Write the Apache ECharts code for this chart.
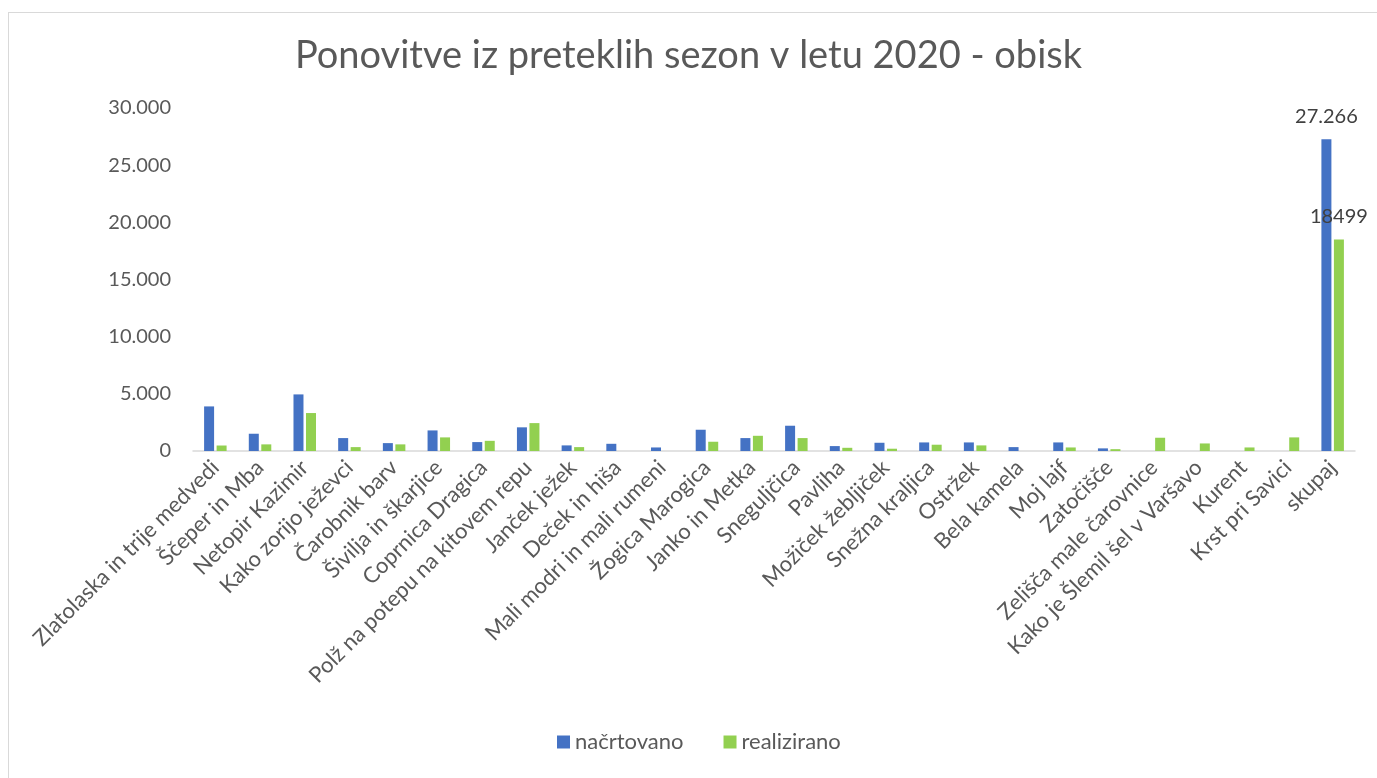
<!DOCTYPE html>
<html>
<head>
<meta charset="utf-8">
<script src="https://cdn.jsdelivr.net/npm/echarts@6/dist/echarts.min.js"></script>
<style>
  html, body { margin: 0; padding: 0; background: #fff; }
  #frame { position: absolute; left: 8px; top: 12px; width: 1380px; height: 780px; border: 1px solid #d9d9d9; box-sizing: border-box; }
  #chart { position: absolute; left: 0; top: 0; width: 1377px; height: 778px; }
</style>
</head>
<body>
<div id="frame"></div>
<div id="chart"></div>
<script>
const categories = [
  "Zlatolaska in trije medvedi", "Ščeper in Mba", "Netopir Kazimir", "Kako zorijo ježevci",
  "Čarobnik barv", "Šivilja in škarjice", "Coprnica Dragica", "Polž na potepu na kitovem repu",
  "Janček ježek", "Deček in hiša", "Mali modri in mali rumeni", "Žogica Marogica",
  "Janko in Metka", "Sneguljčica", "Pavliha", "Možiček žebljiček", "Snežna kraljica",
  "Ostržek", "Bela kamela", "Moj lajf", "Zatočišče", "Zelišča male čarovnice",
  "Kako je Šlemil šel v Varšavo", "Kurent", "Krst pri Savici", "skupaj"
];
const planned = [
  3900, 1510, 4950, 1130, 690, 1800, 780, 2070, 490, 630, 310, 1860,
  1130, 2210, 430, 720, 750, 750, 340, 750, 230, null, null, null, null, 27266
];
const realized = [
  480, 580, 3320, 340, 580, 1190, 890, 2440, 340, null, null, 810,
  1330, 1130, 280, 200, 550, 490, null, 310, 160, 1160, 660, 310, 1190, 18499
];
const yTicks = [0, 5000, 10000, 15000, 20000, 25000, 30000];

const BLUE = "#4472C4";
const GREEN = "#92D050";
const TEXT = "#595959";
const FONT = "Lato, 'Open Sans', sans-serif";

const lastIdx = categories.length - 1;
const fmtDot = (v) => String(v).replace(/\B(?=(\d{3})+(?!\d))/g, ".");

const chart = echarts.init(document.getElementById("chart"));
chart.setOption({
  animation: false,
  textStyle: { fontFamily: FONT },
  title: {
    text: "Ponovitve iz preteklih sezon v letu 2020 - obisk",
    left: "center",
    top: 32,
    textStyle: { fontSize: 38, fontWeight: "normal", color: TEXT, fontFamily: FONT },
  },
  legend: {
    bottom: 20,
    left: 552,
    itemWidth: 13,
    itemHeight: 13,
    itemGap: 40,
    icon: "rect",
    textStyle: { fontSize: 22, color: TEXT, fontFamily: FONT },
    data: ["načrtovano", "realizirano"],
  },
  grid: { left: 193, right: 22, top: 108, bottom: 327, containLabel: false },
  xAxis: {
    type: "category",
    data: categories,
    axisLine: { lineStyle: { color: "#d9d9d9", width: 1.5 } },
    axisTick: { show: false },
    axisLabel: {
      rotate: 45,
      interval: 0,
      fontSize: 22,
      color: TEXT,
      margin: 13,
      fontFamily: FONT,
    },
  },
  yAxis: {
    type: "value",
    min: yTicks[0],
    max: yTicks[yTicks.length - 1],
    interval: yTicks[1] - yTicks[0],
    splitLine: { show: false },
    axisLine: { show: false },
    axisTick: { show: false },
    axisLabel: {
      fontSize: 20,
      color: TEXT,
      margin: 22,
      fontFamily: FONT,
      formatter: (v) => fmtDot(v),
    },
  },
  series: [
    {
      name: "načrtovano",
      type: "bar",
      data: planned,
      barWidth: 10,
      barGap: "25%",
      itemStyle: { color: BLUE },
      label: {
        show: true,
        position: "top",
        distance: 13,
        fontSize: 20,
        color: "#404040",
        fontFamily: FONT,
        formatter: (p) => (p.dataIndex === lastIdx ? fmtDot(p.value) : ""),
      },
    },
    {
      name: "realizirano",
      type: "bar",
      data: realized,
      barWidth: 10,
      itemStyle: { color: GREEN },
      label: {
        show: true,
        position: "top",
        distance: 13,
        fontSize: 20,
        color: "#404040",
        fontFamily: FONT,
        formatter: (p) => (p.dataIndex === lastIdx ? String(p.value) : ""),
      },
    },
  ],
});
</script>
</body>
</html>
